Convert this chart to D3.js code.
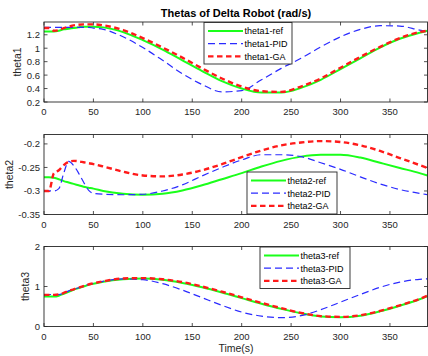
<!DOCTYPE html>
<html>
<head>
<meta charset="utf-8">
<script src="https://cdn.jsdelivr.net/npm/d3@7"></script>
<style>
  body { margin: 0; background: #fff; }
  svg { display: block; font-family: "Liberation Sans", Arial, sans-serif; }
</style>
</head>
<body>
<svg id="chart" width="428" height="356"></svg>
<script>
// time samples shared by all series
var time = [0, 5, 10, 15, 20, 25, 30, 35, 40, 45, 50, 60, 80, 100, 120, 140, 160, 180, 200, 220, 240, 260, 280, 300, 320, 340, 360, 380, 388];

var theta1Ref = [1.25, 1.25, 1.25, 1.26, 1.28, 1.29, 1.30, 1.31, 1.32, 1.32, 1.32, 1.31, 1.24, 1.12, 0.98, 0.82, 0.66, 0.51, 0.40, 0.34, 0.34, 0.41, 0.53, 0.69, 0.85, 1.01, 1.14, 1.23, 1.26];
var theta1PID = [1.31, 1.31, 1.31, 1.31, 1.31, 1.31, 1.31, 1.31, 1.31, 1.31, 1.30, 1.28, 1.17, 1.01, 0.82, 0.62, 0.46, 0.35, 0.37, 0.53, 0.70, 0.85, 1.02, 1.17, 1.28, 1.335, 1.33, 1.27, 1.25];
var theta1GA = [1.30, 1.30, 1.26, 1.27, 1.30, 1.32, 1.34, 1.35, 1.355, 1.355, 1.355, 1.34, 1.27, 1.15, 1.01, 0.86, 0.70, 0.55, 0.43, 0.36, 0.35, 0.43, 0.55, 0.71, 0.87, 1.02, 1.15, 1.24, 1.26];

var theta2Ref = [-0.271, -0.271, -0.272, -0.275, -0.279, -0.282, -0.285, -0.288, -0.291, -0.293, -0.295, -0.300, -0.306, -0.308, -0.306, -0.299, -0.288, -0.275, -0.262, -0.248, -0.236, -0.227, -0.223, -0.223, -0.229, -0.240, -0.251, -0.262, -0.267];
var theta2PID = [-0.300, -0.300, -0.300, -0.295, -0.262, -0.237, -0.246, -0.262, -0.281, -0.298, -0.305, -0.307, -0.308, -0.307, -0.300, -0.287, -0.268, -0.250, -0.234, -0.223, -0.223, -0.227, -0.240, -0.254, -0.270, -0.285, -0.297, -0.305, -0.308];
var theta2GA = [-0.300, -0.300, -0.262, -0.256, -0.245, -0.238, -0.236, -0.237, -0.239, -0.241, -0.243, -0.248, -0.259, -0.267, -0.269, -0.265, -0.256, -0.243, -0.228, -0.214, -0.203, -0.197, -0.194, -0.196, -0.203, -0.215, -0.230, -0.245, -0.251];

var theta3Ref = [0.75, 0.75, 0.75, 0.77, 0.82, 0.87, 0.92, 0.96, 1.00, 1.04, 1.07, 1.12, 1.18, 1.20, 1.17, 1.09, 0.98, 0.85, 0.71, 0.57, 0.44, 0.33, 0.25, 0.23, 0.27, 0.38, 0.52, 0.68, 0.76];
var theta3PID = [0.80, 0.80, 0.80, 0.80, 0.84, 0.89, 0.93, 0.97, 1.01, 1.05, 1.08, 1.13, 1.19, 1.17, 1.07, 0.91, 0.72, 0.53, 0.36, 0.26, 0.22, 0.27, 0.42, 0.61, 0.80, 0.98, 1.11, 1.18, 1.19];
var theta3GA = [0.79, 0.79, 0.79, 0.80, 0.84, 0.89, 0.93, 0.97, 1.01, 1.05, 1.08, 1.13, 1.20, 1.21, 1.18, 1.11, 1.00, 0.87, 0.73, 0.59, 0.46, 0.34, 0.26, 0.24, 0.28, 0.39, 0.53, 0.69, 0.77];

var xTicks = [0, 50, 100, 150, 200, 250, 300, 350];
var yTicks1 = [0.2, 0.4, 0.6, 0.8, 1, 1.2];
var yTicks2 = [-0.35, -0.3, -0.25, -0.2];
var yTicks3 = [0, 1, 2];

var panels = [
  {name: "theta1", series: [theta1Ref, theta1PID, theta1GA], domain: [0.2, 1.39], ticks: yTicks1, top: 22, labelX: 21, legend: [204, 22.5, 88, 41.5]},
  {name: "theta2", series: [theta2Ref, theta2PID, theta2GA], domain: [-0.35, -0.18], ticks: yTicks2, top: 134.5, labelX: 13, legend: [247, 172, 90, 42]},
  {name: "theta3", series: [theta3Ref, theta3PID, theta3GA], domain: [0, 2], ticks: yTicks3, top: 246.5, labelX: 29, legend: [260, 247, 90, 41.5]}
];

var styles = [
  {suffix: "-ref", color: "#1aff1a", width: 2, dash: null},
  {suffix: "-PID", color: "#2b2bff", width: 1.2, dash: "7,4"},
  {suffix: "-GA", color: "#ff1a1a", width: 2.4, dash: "5.5,3.5"}
];

var d3svg = d3.select("#chart");
var left = 44, right = 427.5, h = 80;
var axisColor = "#262626";

var x = d3.scaleLinear().domain([0, 388]).range([left, right]);

d3svg.append("text")
  .attr("x", 236).attr("y", 17)
  .attr("text-anchor", "middle")
  .attr("font-size", "11px").attr("font-weight", "bold")
  .attr("fill", "#000")
  .text("Thetas of Delta Robot (rad/s)");

panels.forEach(function(p, i) {
  var y = d3.scaleLinear().domain(p.domain).range([p.top + h, p.top]);
  var g = d3svg.append("g");

  g.append("clipPath").attr("id", "clip" + i)
    .append("rect").attr("x", left).attr("y", p.top).attr("width", right - left).attr("height", h);

  // ticks inside, on all four sides
  var tl = 3.5;
  xTicks.forEach(function(t) {
    g.append("line").attr("x1", x(t)).attr("x2", x(t)).attr("y1", p.top + h).attr("y2", p.top + h - tl)
      .attr("stroke", axisColor).attr("stroke-width", 0.8);
    g.append("line").attr("x1", x(t)).attr("x2", x(t)).attr("y1", p.top).attr("y2", p.top + tl)
      .attr("stroke", axisColor).attr("stroke-width", 0.8);
    g.append("text").attr("x", x(t)).attr("y", p.top + h + 13)
      .attr("text-anchor", "middle").attr("font-size", "9.5px").attr("fill", axisColor)
      .text(t);
  });
  p.ticks.forEach(function(t) {
    g.append("line").attr("x1", left).attr("x2", left + tl).attr("y1", y(t)).attr("y2", y(t))
      .attr("stroke", axisColor).attr("stroke-width", 0.8);
    g.append("line").attr("x1", right).attr("x2", right - tl).attr("y1", y(t)).attr("y2", y(t))
      .attr("stroke", axisColor).attr("stroke-width", 0.8);
    g.append("text").attr("x", left - 4).attr("y", y(t) + 3.5)
      .attr("text-anchor", "end").attr("font-size", "9.5px").attr("fill", axisColor)
      .text(t);
  });

  var line = d3.line()
    .x(function(d, k) { return x(time[k]); })
    .y(function(d) { return y(d); })
    .curve(d3.curveMonotoneX);

  p.series.forEach(function(s, k) {
    g.append("path")
      .attr("d", line(s))
      .attr("clip-path", "url(#clip" + i + ")")
      .attr("fill", "none")
      .attr("stroke", styles[k].color)
      .attr("stroke-width", styles[k].width)
      .attr("stroke-dasharray", styles[k].dash);
  });

  g.append("rect")
    .attr("x", left).attr("y", p.top).attr("width", right - left).attr("height", h)
    .attr("fill", "none").attr("stroke", axisColor).attr("stroke-width", 0.9);

  g.append("text")
    .attr("transform", "translate(" + p.labelX + "," + (p.top + h / 2) + ") rotate(-90)")
    .attr("text-anchor", "middle").attr("font-size", "10.5px").attr("fill", axisColor)
    .text(p.name);

  // legend
  var lg = p.legend;
  g.append("rect")
    .attr("x", lg[0]).attr("y", lg[1]).attr("width", lg[2]).attr("height", lg[3])
    .attr("fill", "#fff").attr("stroke", "#262626").attr("stroke-width", 0.9);
  styles.forEach(function(st, k) {
    var ly = lg[1] + 8.5 + k * 12.7;
    g.append("line")
      .attr("x1", lg[0] + 4).attr("x2", lg[0] + 39).attr("y1", ly).attr("y2", ly)
      .attr("stroke", st.color).attr("stroke-width", st.width)
      .attr("stroke-dasharray", st.dash);
    g.append("text")
      .attr("x", lg[0] + 40.5).attr("y", ly + 3.3)
      .attr("font-size", "9px").attr("fill", "#000")
      .text(p.name + st.suffix);
  });
});

d3svg.append("text")
  .attr("x", 236).attr("y", 352)
  .attr("text-anchor", "middle").attr("font-size", "10.5px").attr("fill", axisColor)
  .text("Time(s)");
</script>
</body>
</html>
